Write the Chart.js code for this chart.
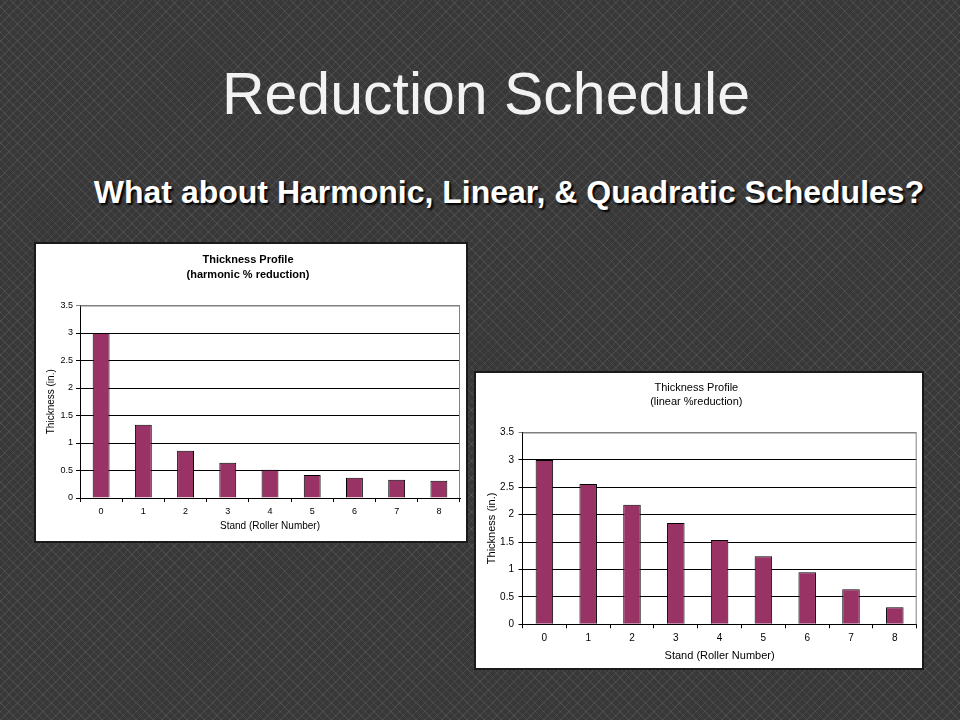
<!DOCTYPE html>
<html>
<head>
<meta charset="utf-8">
<script src="https://cdn.jsdelivr.net/npm/chart.js@4"></script>
<style>
  html, body { margin: 0; padding: 0; }
  body {
    width: 960px; height: 720px; position: relative; overflow: hidden;
    background-color: #383838;
    background-image:
      repeating-linear-gradient(45deg, rgba(255,255,255,0.07) 0 1px, transparent 1px 6px),
      repeating-linear-gradient(-45deg, rgba(255,255,255,0.07) 0 1px, transparent 1px 6px);
    font-family: "Liberation Sans", Arial, sans-serif;
  }
  .title {
    position: absolute; left: 486px; top: 65px; transform: translateX(-50%);
    font-size: 59px; line-height: 59px; color: #f2f2f2; white-space: nowrap;
  }
  .subtitle {
    position: absolute; left: 509px; top: 176px; transform: translateX(-50%);
    font-size: 32px; line-height: 32px; font-weight: bold; color: #fff; white-space: nowrap;
    text-shadow: 2px 2px 2px #000;
  }
  .box {
    position: absolute; background: #fff; border: 2px solid #1a1a1a;
  }
  .box canvas { display: block; }
</style>
</head>
<body>
<div class="title">Reduction Schedule</div>
<div class="subtitle">What about Harmonic, Linear, &amp; Quadratic Schedules?</div>

<div class="box" style="left:34px; top:242px; width:430px; height:297px;">
  <canvas id="harmonic" width="430" height="297"></canvas>
</div>
<div class="box" style="left:474px; top:371px; width:446px; height:295px;">
  <canvas id="linear" width="446" height="295"></canvas>
</div>

<script>
const stands = ["0", "1", "2", "3", "4", "5", "6", "7", "8"]
const harmonic = [3.0, 1.333, 0.86, 0.64, 0.515, 0.42, 0.37, 0.333, 0.315]
const linear = [3.0, 2.56, 2.18, 1.85, 1.54, 1.24, 0.95, 0.64, 0.31]

const barColor = "#993366"

// gray frame on top and right of plot area (Excel style)
const plotFrame = {
  id: 'plotFrame',
  afterDatasetsDraw(chart) {
    const a = chart.chartArea
    const ctx = chart.ctx
    ctx.save()
    ctx.strokeStyle = '#808080'
    ctx.lineWidth = 1
    ctx.beginPath()
    ctx.moveTo(a.left, a.top + 0.5)
    ctx.lineTo(a.right - 0.5, a.top + 0.5)
    ctx.lineTo(a.right - 0.5, a.bottom)
    ctx.stroke()
    ctx.restore()
  }
}

function makeChart(el, values, opt) {
  return new Chart(el, {
    type: 'bar',
    data: {
      labels: stands,
      datasets: [{
        data: values,
        backgroundColor: barColor,
        borderColor: '#000',
        borderWidth: 1,
        barPercentage: 0.4,
        categoryPercentage: 1.0
      }]
    },
    plugins: [plotFrame],
    options: {
      responsive: false,
      animation: false,
      layout: { padding: { left: 0, right: opt.padRight, top: 0, bottom: 0 } },
      plugins: {
        legend: { display: false },
        tooltip: { enabled: false },
        title: {
          display: true,
          text: opt.title,
          color: '#000',
          font: { family: 'Liberation Sans', size: 11, weight: opt.titleWeight, lineHeight: opt.titleLH },
          padding: { top: opt.titleTop, bottom: opt.titleBottom }
        }
      },
      scales: {
        x: {
          afterFit: function(s) { s.height = opt.xHeight },
          grid: { drawOnChartArea: false, offset: true, tickLength: 4, color: '#000' },
          border: { color: '#000' },
          ticks: { color: '#000', padding: opt.xTickPad, font: { family: 'Liberation Sans', size: opt.tickSize } },
          title: {
            display: true, text: 'Stand (Roller Number)', color: '#000',
            font: { family: 'Liberation Sans', size: opt.axisSize },
            padding: { top: 0, bottom: opt.xTitlePad }
          }
        },
        y: {
          min: 0, max: 3.5,
          afterFit: function(s) { s.width = opt.yWidth },
          grid: {
            tickLength: 4,
            color: function(c) { return c.tick && c.tick.value === 3.5 ? '#808080' : '#000' }
          },
          border: { color: '#000' },
          ticks: {
            stepSize: 0.5, color: '#000', padding: opt.yTickPad,
            font: { family: 'Liberation Sans', size: opt.tickSize },
            callback: function(v) { return String(v) }
          },
          title: {
            display: true, text: 'Thickness (in.)', color: '#000',
            font: { family: 'Liberation Sans', size: opt.axisSize },
            padding: { top: opt.yTitlePad, bottom: 0 }
          }
        }
      }
    }
  })
}

makeChart(document.getElementById('harmonic'), harmonic, {
  title: ['Thickness Profile', '(harmonic % reduction)'],
  titleWeight: 'bold', titleLH: 15 / 11, titleTop: 8.5, titleBottom: 23,
  padRight: 6, xHeight: 43, yWidth: 44,
  tickSize: 9, axisSize: 10, xTickPad: 4, yTickPad: 3, xTitlePad: 8.3, yTitlePad: 9
})

makeChart(document.getElementById('linear'), linear, {
  title: ['Thickness Profile', '(linear %reduction)'],
  titleWeight: 'normal', titleLH: 14 / 11, titleTop: 8, titleBottom: 23.5,
  padRight: 5.3, xHeight: 43.7, yWidth: 46.5,
  tickSize: 10, axisSize: 11, xTickPad: 4, yTickPad: 4.5, xTitlePad: 5.7, yTitlePad: 9.1
})
</script>
</body>
</html>
